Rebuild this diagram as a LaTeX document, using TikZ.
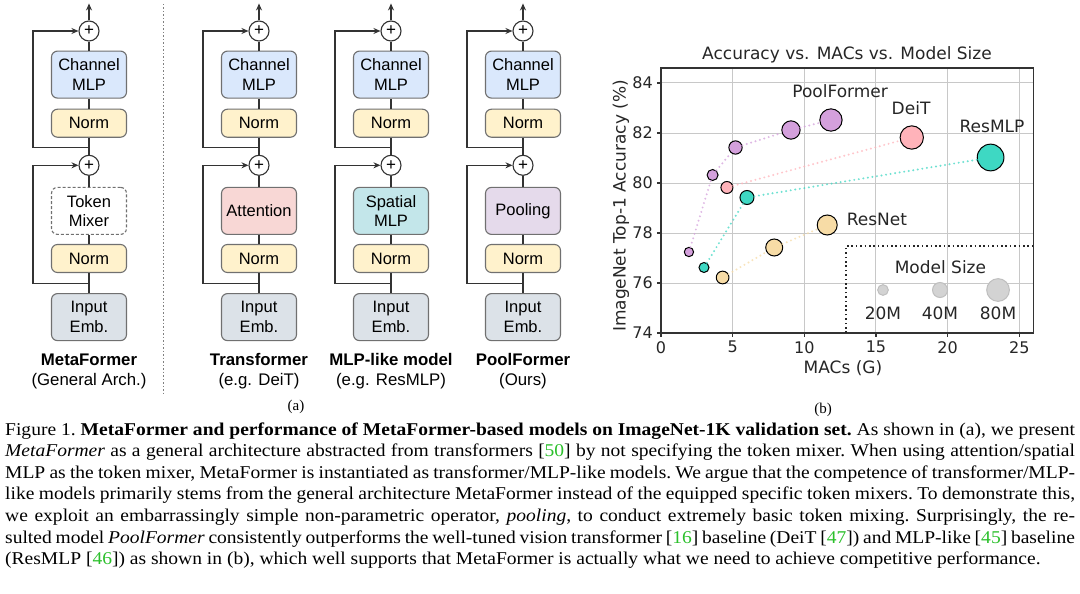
\documentclass[tikz,border=0pt]{standalone}
\usepackage{fontspec}
\setmainfont{Liberation Serif}
\newfontfamily\archfont{Liberation Sans}
\newfontfamily\plotfont{DejaVu Sans}
\usepackage{graphicx}
\usepackage{tikz}
\usetikzlibrary{positioning}
\usetikzlibrary{arrows.meta}
\usepackage{xcolor}

\definecolor{boxline}{HTML}{707070}
\definecolor{linec}{HTML}{333333}
\definecolor{cmlpfill}{HTML}{DAE8FC}
\definecolor{normfill}{HTML}{FFF2CC}
\definecolor{attnfill}{HTML}{F8D7D5}
\definecolor{spatfill}{HTML}{C3E6EA}
\definecolor{poolfill}{HTML}{E5DAEB}
\definecolor{embfill}{HTML}{DCE2E8}
\definecolor{poolc}{HTML}{D4A0DC}
\definecolor{deitc}{HTML}{FFB3BA}
\definecolor{resmlpc}{HTML}{3ED8C3}
\definecolor{resnetc}{HTML}{F7DCA6}
\definecolor{legc}{HTML}{D3D3D3}
\definecolor{gridc}{HTML}{C8C8C8}
\definecolor{citeg}{HTML}{2BC02B}

\tikzset{
    anybox/.style={draw=boxline, line width=1.1pt, rounded corners=6pt, minimum width=75pt,
        align=center, inner sep=0pt, font=\archfont\fontsize{16.5}{19.5}\selectfont},
    tallbox/.style={anybox, minimum height=47pt},
    normbox/.style={anybox, fill=normfill, minimum height=28pt},
    plus/.style={draw=linec, line width=1.1pt, circle, minimum size=20pt, inner sep=0pt,
        font=\archfont\fontsize{17}{17}\selectfont},
    flow/.style={draw=linec, line width=1.1pt},
    archname/.style={align=center, font=\archfont\fontsize{16.8}{20}\selectfont},
    pt/.style={circle, draw=black, line width=1pt, inner sep=0pt},
    famline/.style={line width=2.2pt, line cap=round, dash pattern=on 0pt off 4.6pt, opacity=.75},
    gridline/.style={draw=gridc, line width=1pt},
    plottext/.style={font=\plotfont\fontsize{17}{20}\selectfont, text=black!85},
    ticklabel/.style={font=\plotfont\fontsize{16}{18}\selectfont, text=black!85, inner sep=0pt},
    capline/.style={anchor=base west, inner sep=0pt, font=\frenchspacing\fontsize{18}{21.6}\selectfont}
}

\begin{document}
\begin{tikzpicture}[x=1pt, y=-1pt, >={Stealth[length=7pt, width=6pt]}]
    \fill[white] (0,0) rectangle (1080,594);
    \useasboundingbox (0,0) rectangle (1080,594);

    % (a) MetaFormer
    \node[plus] (metaTop) at (89,31) {+};
    \coordinate[above=17pt of metaTop] (metaOut);
    \node[tallbox, fill=cmlpfill, below=9pt of metaTop] (metaCmlp) {Channel\\MLP};
    \node[normbox, below=10pt of metaCmlp] (metaNormB) {Norm};
    \coordinate[below=10pt of metaNormB] (metaJB);
    \node[plus, below=17pt of metaNormB] (metaMid) {+};
    \node[tallbox, dash pattern=on 3pt off 2pt, below=11pt of metaMid] (metaMix) {Token\\Mixer};
    \node[normbox, below=9pt of metaMix] (metaNormA) {Norm};
    \coordinate[below=10pt of metaNormA] (metaJA);
    \node[tallbox, fill=embfill, below=20pt of metaNormA] (metaEmb) {Input\\Emb.};
    \draw[flow] (metaEmb) -- (metaNormA) -- (metaMix) -- (metaMid) -- (metaNormB) -- (metaCmlp) -- (metaTop);
    \draw[flow, ->] (metaTop) -- (metaOut);
    \draw[flow, ->] (metaJA) -- ++(-56,0) |- (metaMid);
    \draw[flow, ->] (metaJB) -- ++(-56,0) |- (metaTop);
    \node[archname] (metaName) at (89,371) {\textbf{MetaFormer}\\(General Arch.)};

    \draw[gray, line width=1pt, dash pattern=on 1.5pt off 2pt] (163,4) -- (163,394);

    % Transformer
    \node[plus] (transTop) at (259,31) {+};
    \coordinate[above=17pt of transTop] (transOut);
    \node[tallbox, fill=cmlpfill, below=9pt of transTop] (transCmlp) {Channel\\MLP};
    \node[normbox, below=10pt of transCmlp] (transNormB) {Norm};
    \coordinate[below=10pt of transNormB] (transJB);
    \node[plus, below=17pt of transNormB] (transMid) {+};
    \node[tallbox, fill=attnfill, below=11pt of transMid] (transMix) {Attention};
    \node[normbox, below=9pt of transMix] (transNormA) {Norm};
    \coordinate[below=10pt of transNormA] (transJA);
    \node[tallbox, fill=embfill, below=20pt of transNormA] (transEmb) {Input\\Emb.};
    \draw[flow] (transEmb) -- (transNormA) -- (transMix) -- (transMid) -- (transNormB) -- (transCmlp) -- (transTop);
    \draw[flow, ->] (transTop) -- (transOut);
    \draw[flow, ->] (transJA) -- ++(-56,0) |- (transMid);
    \draw[flow, ->] (transJB) -- ++(-56,0) |- (transTop);
    \node[archname] (transName) at (259,371) {\textbf{Transformer}\\(e.g. DeiT)};

    % MLP-like model
    \node[plus] (mlpTop) at (391,31) {+};
    \coordinate[above=17pt of mlpTop] (mlpOut);
    \node[tallbox, fill=cmlpfill, below=9pt of mlpTop] (mlpCmlp) {Channel\\MLP};
    \node[normbox, below=10pt of mlpCmlp] (mlpNormB) {Norm};
    \coordinate[below=10pt of mlpNormB] (mlpJB);
    \node[plus, below=17pt of mlpNormB] (mlpMid) {+};
    \node[tallbox, fill=spatfill, below=11pt of mlpMid] (mlpMix) {Spatial\\MLP};
    \node[normbox, below=9pt of mlpMix] (mlpNormA) {Norm};
    \coordinate[below=10pt of mlpNormA] (mlpJA);
    \node[tallbox, fill=embfill, below=20pt of mlpNormA] (mlpEmb) {Input\\Emb.};
    \draw[flow] (mlpEmb) -- (mlpNormA) -- (mlpMix) -- (mlpMid) -- (mlpNormB) -- (mlpCmlp) -- (mlpTop);
    \draw[flow, ->] (mlpTop) -- (mlpOut);
    \draw[flow, ->] (mlpJA) -- ++(-56,0) |- (mlpMid);
    \draw[flow, ->] (mlpJB) -- ++(-56,0) |- (mlpTop);
    \node[archname] (mlpName) at (391,371) {\textbf{MLP-like model}\\(e.g. ResMLP)};

    % PoolFormer
    \node[plus] (poolTop) at (523,31) {+};
    \coordinate[above=17pt of poolTop] (poolOut);
    \node[tallbox, fill=cmlpfill, below=9pt of poolTop] (poolCmlp) {Channel\\MLP};
    \node[normbox, below=10pt of poolCmlp] (poolNormB) {Norm};
    \coordinate[below=10pt of poolNormB] (poolJB);
    \node[plus, below=17pt of poolNormB] (poolMid) {+};
    \node[tallbox, fill=poolfill, below=11pt of poolMid] (poolMix) {Pooling};
    \node[normbox, below=9pt of poolMix] (poolNormA) {Norm};
    \coordinate[below=10pt of poolNormA] (poolJA);
    \node[tallbox, fill=embfill, below=20pt of poolNormA] (poolEmb) {Input\\Emb.};
    \draw[flow] (poolEmb) -- (poolNormA) -- (poolMix) -- (poolMid) -- (poolNormB) -- (poolCmlp) -- (poolTop);
    \draw[flow, ->] (poolTop) -- (poolOut);
    \draw[flow, ->] (poolJA) -- ++(-56,0) |- (poolMid);
    \draw[flow, ->] (poolJB) -- ++(-56,0) |- (poolTop);
    \node[archname] (poolName) at (523,371) {\textbf{PoolFormer}\\(Ours)};

    \node[font=\fontsize{15}{18}\selectfont] (subA) at (296,407) {(a)};

    % (b) accuracy vs. MACs
    \node[plottext] (plotTitle) at (847,55) {Accuracy vs. MACs vs. Model Size};
    \node[plottext, rotate=90] (yLabel) at (621,206) {ImageNet Top-1 Accuracy (\%)};
    \node[plottext] (xLabel) at (843,368) {MACs (G)};
    \node[font=\fontsize{15}{18}\selectfont] (subB) at (823,410) {(b)};

    \begin{scope}[shift={(661,2183)}, x=14.33pt, y=25pt]
        \foreach \gx in {5,10,15,20,25}
            \draw[gridline] (\gx,74) -- (\gx,84.6);
        \foreach \gy in {76,78,80,82,84}
            \draw[gridline] (0,\gy) -- (26,\gy);
        \draw[black!80, line width=1.2pt] (0,74) rectangle (26,84.6);
        \foreach \gx in {0,5,10,15,20,25} {
            \draw[black!80, line width=1.2pt] (\gx,74) -- ++(0,-4pt);
            \node[ticklabel, anchor=north, yshift=-8pt] (xt\gx) at (\gx,74) {\gx};
        }
        \foreach \gy in {74,76,78,80,82,84} {
            \draw[black!80, line width=1.2pt] (0,\gy) -- ++(-4pt,0);
            \node[ticklabel, anchor=east, xshift=-8pt] (yt\gy) at (0,\gy) {\gy};
        }

        % model size legend
        \draw[black!85, line width=1.6pt, dash pattern=on 1.6pt off 2.8pt] (12.91,74) -- (12.91,77.48) -- (26,77.48);
        \node[plottext] (legTitle) at (19.5,76.64) {Model Size};
        \node[pt, draw=black!25, fill=legc, minimum size=10.7pt] (legA) at (15.49,75.72) {};
        \node[pt, draw=black!25, fill=legc, minimum size=15pt] (legB) at (19.47,75.72) {};
        \node[pt, draw=black!25, fill=legc, minimum size=22.7pt] (legC) at (23.52,75.72) {};
        \node[plottext] (legAl) at (15.49,74.8) {20M};
        \node[plottext] (legBl) at (19.47,74.8) {40M};
        \node[plottext] (legCl) at (23.52,74.8) {80M};

        % PoolFormer
        \node[pt, fill=poolc, minimum size=9.3pt] (pfA) at (1.95,77.24) {};
        \node[pt, fill=poolc, minimum size=11pt] (pfB) at (3.6,80.32) {};
        \node[pt, fill=poolc, minimum size=13.3pt] (pfC) at (5.2,81.42) {};
        \node[pt, fill=poolc, minimum size=18.3pt] (pfD) at (9.07,82.12) {};
        \node[pt, fill=poolc, minimum size=22.3pt] (pfE) at (11.86,82.52) {};
        \draw[famline, poolc] (pfA) -- (pfB) -- (pfC) -- (pfD) -- (pfE);
        % DeiT
        \node[pt, fill=deitc, minimum size=12pt] (deitA) at (4.6,79.82) {};
        \node[pt, fill=deitc, minimum size=23.3pt] (deitB) at (17.5,81.82) {};
        \draw[famline, deitc] (deitA) -- (deitB);
        % ResMLP
        \node[pt, fill=resmlpc, minimum size=10pt] (resmlpA) at (3.0,76.62) {};
        \node[pt, fill=resmlpc, minimum size=14pt] (resmlpB) at (6.0,79.42) {};
        \node[pt, fill=resmlpc, minimum size=26.7pt] (resmlpC) at (23.0,81.02) {};
        \draw[famline, resmlpc] (resmlpA) -- (resmlpB) -- (resmlpC);
        % ResNet
        \node[pt, fill=resnetc, minimum size=12.7pt] (resnetA) at (4.3,76.22) {};
        \node[pt, fill=resnetc, minimum size=17pt] (resnetB) at (7.9,77.42) {};
        \node[pt, fill=resnetc, minimum size=20pt] (resnetC) at (11.6,78.32) {};
        \draw[famline, resnetc] (resnetA) -- (resnetB) -- (resnetC);

        \node[plottext] (pfLabel) at (12.5,83.66) {PoolFormer};
        \node[plottext] (deitLabel) at (17.45,82.98) {DeiT};
        \node[plottext] (resmlpLabel) at (23.1,82.26) {ResMLP};
        \node[plottext] (resnetLabel) at (15.07,78.56) {ResNet};
    \end{scope}

    % caption
    \node[capline] (cap1) at (5,435) {\scalebox{1.085}[1]{\makebox[986pt][s]{Figure 1. \textbf{MetaFormer and performance of MetaFormer-based models on ImageNet-1K validation set.} As shown in (a), we present}}};
    \node[capline] (cap2) at (5,456.6) {\scalebox{1.085}[1]{\makebox[986pt][s]{\textit{MetaFormer} as a general architecture abstracted from transformers [\textcolor{citeg}{50}] by not specifying the token mixer. When using attention/spatial}}};
    \node[capline] (cap3) at (5,478.2) {\scalebox{1.085}[1]{\makebox[986pt][s]{MLP as the token mixer, MetaFormer is instantiated as transformer/MLP-like models. We argue that the competence of transformer/MLP-}}};
    \node[capline] (cap4) at (5,499.8) {\scalebox{1.085}[1]{\makebox[986pt][s]{like models primarily stems from the general architecture MetaFormer instead of the equipped specific token mixers. To demonstrate this,}}};
    \node[capline] (cap5) at (5,521.4) {\scalebox{1.085}[1]{\makebox[986pt][s]{we exploit an embarrassingly simple non-parametric operator, \textit{pooling}, to conduct extremely basic token mixing. Surprisingly, the re-}}};
    \node[capline] (cap6) at (5,543) {\scalebox{1.085}[1]{\makebox[986pt][s]{sulted model \textit{PoolFormer} consistently outperforms the well-tuned vision transformer [\textcolor{citeg}{16}] baseline (DeiT [\textcolor{citeg}{47}]) and MLP-like [\textcolor{citeg}{45}] baseline}}};
    \node[capline] (cap7) at (5,564.6) {\scalebox{1.085}[1]{(ResMLP [\textcolor{citeg}{46}]) as shown in (b), which well supports that MetaFormer is actually what we need to achieve competitive performance.}};
\end{tikzpicture}
\end{document}
